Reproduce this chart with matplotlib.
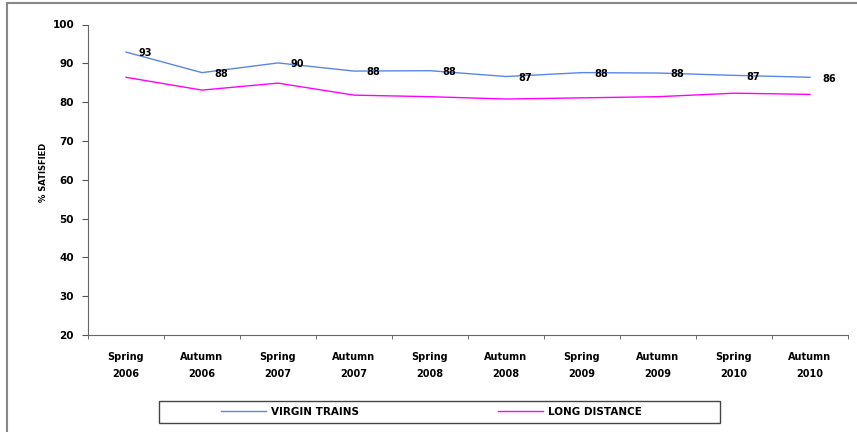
import matplotlib as mpl
mpl.use('Agg')
import matplotlib.pyplot as plt
import matplotlib.patches as mpatches
import numpy as np

plt.rcParams['font.family'] = 'DejaVu Sans'
plt.rcParams['font.weight'] = 'bold'

periods = ['Spring\n2006', 'Autumn\n2006', 'Spring\n2007', 'Autumn\n2007', 'Spring\n2008',
           'Autumn\n2008', 'Spring\n2009', 'Autumn\n2009', 'Spring\n2010', 'Autumn\n2010']
virgin = [92.9, 87.6, 90.1, 88.0, 88.1, 86.6, 87.6, 87.5, 86.9, 86.4]
virgin_labels = ['93', '88', '90', '88', '88', '87', '88', '88', '87', '86']
long_distance = [86.4, 83.1, 84.9, 81.8, 81.4, 80.8, 81.1, 81.4, 82.3, 82.0]

W, H = 857, 432
fig = plt.figure(figsize=(W / 100, H / 100), dpi=100)
ax = fig.add_axes([88 / W, 1 - 335 / H, 760 / W, 310.5 / H])

x = np.arange(len(periods))
l1, = ax.plot(x, virgin, color='#5b86e5', linewidth=1.0)
l2, = ax.plot(x, long_distance, color='#ff00ff', linewidth=1.0)

for xi, v, lab in zip(x, virgin, virgin_labels):
    ax.annotate(lab, (xi, v), xytext=(14, -1), textcoords='offset points',
                ha='center', va='center', fontsize=7, fontweight='bold')

ax.set_xlim(-0.5, len(periods) - 0.5)
ax.set_ylim(20, 100)
ax.set_yticks(np.arange(20, 101, 10))
ax.set_xticks(x)
ax.set_xticklabels(periods, fontsize=7, fontweight='bold', linespacing=1.9)
ax.set_xticks(np.arange(-0.5, len(periods)), minor=True)
ax.tick_params(axis='x', which='major', length=0, pad=12)
ax.tick_params(axis='x', which='minor', length=3, color='#555555')
ax.tick_params(axis='y', labelsize=7.5, length=4, color='#555555', pad=6)
for t in ax.get_yticklabels():
    t.set_fontweight('bold')

ax.spines['top'].set_visible(False)
ax.spines['right'].set_visible(False)
ax.spines['left'].set_color('#666666')
ax.spines['bottom'].set_color('#666666')

fig.text(0.051, 0.6, '% SATISFIED', rotation=90, ha='center', va='center',
         fontsize=6, fontweight='bold')

# legend box and its two entries
legbox = mpatches.Rectangle((159 / W, 1 - 423 / H), 561 / W, 22 / H, transform=fig.transFigure,
                            fill=False, edgecolor='#444444', linewidth=1.0)
fig.patches.append(legbox)
for handle, name, xpos in [(l1, 'VIRGIN TRAINS', 221), (l2, 'LONG DISTANCE', 498)]:
    lg = fig.legend([handle], [name], loc='center left', bbox_to_anchor=(xpos / W, 1 - 412 / H),
                    frameon=False, fontsize=7.5, handlelength=4.3, handletextpad=0.5,
                    borderpad=0, borderaxespad=0)
    for t in lg.get_texts():
        t.set_fontweight('bold')

frame = mpatches.Rectangle((7 / W, -0.2), 1.5, 1.2 - 3 / H, transform=fig.transFigure,
                           fill=False, edgecolor='#888888', linewidth=1.5)
fig.patches.append(frame)

plt.savefig('out.png', dpi=100)
